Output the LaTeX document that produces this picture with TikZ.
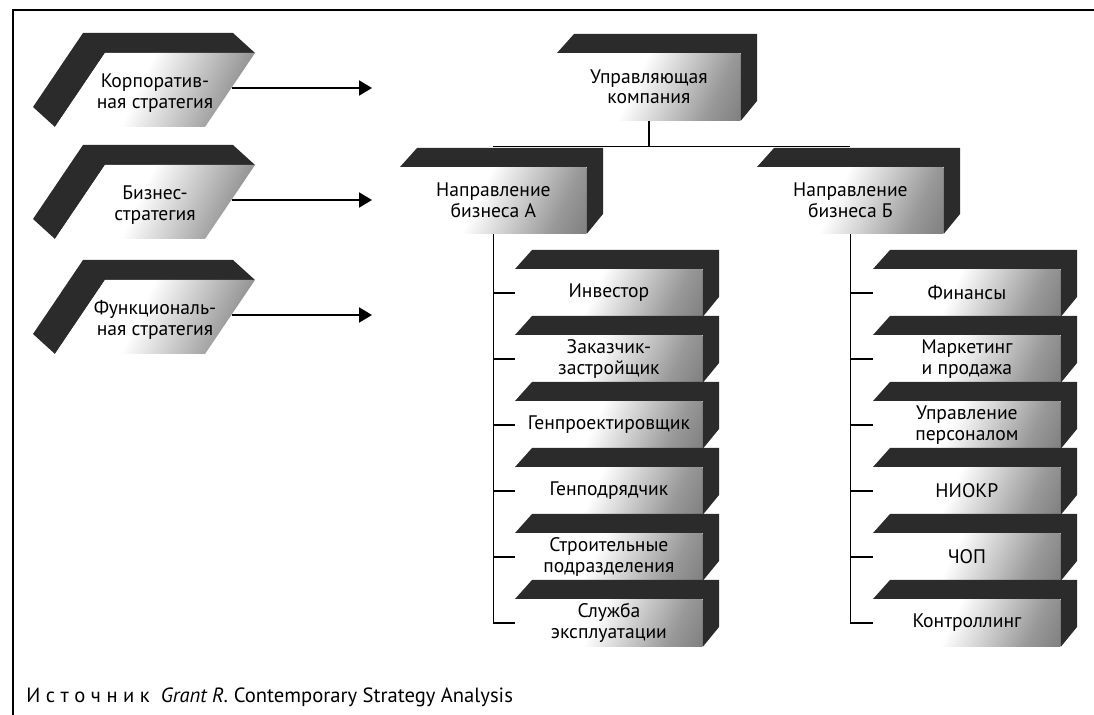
\documentclass[tikz,border=0pt]{standalone}
\usepackage{fontspec}
\setmainfont{PT Sans}
\usetikzlibrary{arrows.meta, positioning}

\definecolor{bandgray}{gray}{0.17}
\pgfdeclarehorizontalshading{facefill}{100bp}{color(0bp)=(white); color(45bp)=(white); color(72bp)=(black!40); color(100bp)=(black!65)}

% box seen from above right: front face node plus dark top and side
\newcommand{\orgbox}[6]{
  \node[face, minimum width=#4*0.5pt, minimum height=#5*0.5pt, anchor=north west] (#1) at ({#2},{#3}) {#6};
  \fill[bandgray] (#1.north west) -- ++(17,-19) -- ++(#4,0) -- ++(0,#5) -- (#1.south east) -- (#1.north east) -- cycle;
}
% slanted strategy plate, seen from above left
\newcommand{\stratbox}[3]{
  \fill[bandgray] (255,#2) -- ++(-22,-20) -- ++(-150,0) -- ++(-50,74) -- ++(22,20) -- ++(50,-74) -- cycle;
  \shade[shading=facefill, shading angle=-25] (105,#2) -- ++(150,0) -- ++(-50,74) -- ++(-150,0) -- cycle;
  \node[stratlabel] (#1) at (155,#2+40) {#3};
  \coordinate (#1-out) at (232,#2+35);
  \coordinate (#1-in) at (372,#2+35);
}

\begin{document}
\begin{tikzpicture}[x=0.5pt, y=-0.5pt,
  face/.style={shade, shading=facefill, shading angle=-25, inner sep=0pt, align=center, font=\fontsize{9.8}{10.3}\selectfont},
  stratlabel/.style={inner sep=0pt, align=center, font=\fontsize{9.8}{10.3}\selectfont},
  link/.style={line width=0.7pt},
  goes to/.style={line width=1pt, -{Triangle[length=6.5pt, width=7.5pt]}}]
  \useasboundingbox (0,0) rectangle (1094,715);
  \draw[line width=1pt] (1094,10) -- (13,10) -- (13,715);

  \stratbox{corp}{53}{Корпоратив-\\ная стратегия}
  \stratbox{bus}{165}{Бизнес-\\стратегия}
  \stratbox{func}{280}{Функциональ-\\ная стратегия}
  \foreach \s in {corp, bus, func}
    \draw[goes to] (\s-out) -- (\s-in);

  \orgbox{mgr}{557}{53}{183}{67}{Управляющая\\компания}
  \orgbox{dirA}{400}{167}{186}{66}{Направление\\бизнеса А}
  \orgbox{dirB}{757}{167}{186}{66}{Направление\\бизнеса Б}

  \draw[link] (mgr.south) -- ++(0,26) coordinate (fork);
  \draw[link] (fork -| dirA) -- (fork -| dirB);

  \foreach \t [count=\i] in {Инвестор, {Заказчик-\\застройщик}, Генпроектировщик, Генподрядчик, {Строительные\\подразделения}, {Служба\\эксплуатации}} {
    \orgbox{a\i}{515}{269+66*(\i-1)}{187}{47}{\t}
  }
  \foreach \t [count=\i] in {Финансы, {Маркетинг\\и продажа}, {Управление\\персоналом}, НИОКР, ЧОП, Контроллинг} {
    \orgbox{b\i}{873}{269+66*(\i-1)}{187}{47}{\t}
  }

  \draw[link] (dirA.south) |- (a6.west);
  \draw[link] (dirB.south) |- (b6.west);
  \foreach \i in {1,...,5} {
    \draw[link] (a\i.west -| dirA.south) -- (a\i.west);
    \draw[link] (b\i.west -| dirB.south) -- (b\i.west);
  }

  \node[anchor=west, inner sep=0pt, font=\fontsize{10.3}{11}\selectfont] (src) at (26,697) {И с т о ч н и к\ \ \textit{Grant R.} Contemporary Strategy Analysis};
\end{tikzpicture}
\end{document}
